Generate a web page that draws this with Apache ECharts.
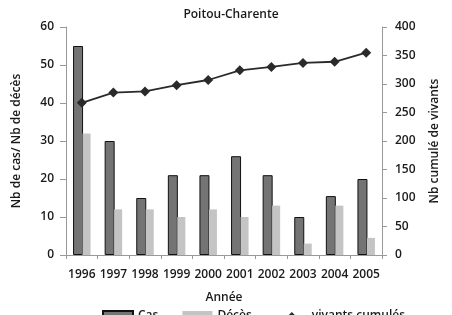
<!DOCTYPE html>
<html>
<head>
<meta charset="utf-8">
<script src="https://cdn.jsdelivr.net/npm/echarts@6/dist/echarts.min.js"></script>
<style>
  html, body { margin: 0; padding: 0; background: #ffffff; }
  #chart { width: 452px; height: 315px; }
</style>
</head>
<body>
<div id="chart"></div>
<script>
// années
var annees = ["1996", "1997", "1998", "1999", "2000", "2001", "2002", "2003", "2004", "2005"];
// nb de cas
var cas = [55, 30, 15, 21, 21, 26, 21, 10, 15.5, 20];
// nb de décès
var deces = [32, 12, 12, 10, 12, 10, 13, 3, 13, 4.5];
// nb cumulé de vivants
var vivants = [267, 285, 287, 298, 307, 324, 330, 337, 339, 355];

var police = "Open Sans";
var texte = "#1a1a1a";
var poids = 600;
var myChart = echarts.init(document.getElementById("chart"));
var option = {
  animation: false,
  textStyle: { fontFamily: police, color: texte, fontWeight: poids },
  title: {
    text: "Poitou-Charente",
    left: 226,
    textAlign: "center",
    top: 4,
    textStyle: { fontSize: 12, fontWeight: poids, color: texte, fontFamily: police }
  },
  legend: {
    top: 305,
    left: 97,
    itemGap: 24,
    itemWidth: 30,
    itemHeight: 10,
    textStyle: { fontSize: 12, color: texte, fontFamily: police, fontWeight: poids },
    data: [
      { name: "Cas", icon: "rect" },
      { name: "Décès", icon: "rect" },
      { name: "vivants cumulés" }
    ]
  },
  grid: { left: 66, right: 70, top: 27, bottom: 60 },
  xAxis: {
    type: "category",
    data: annees,
    name: "Année",
    nameLocation: "middle",
    nameGap: 37,
    nameTextStyle: { fontSize: 12, color: texte, fontWeight: poids },
    axisLine: { lineStyle: { color: "#999" } },
    axisTick: { show: true, alignWithLabel: false, length: 4, lineStyle: { color: "#999" } },
    axisLabel: { fontSize: 12, color: texte, margin: 14, interval: 0, fontWeight: poids }
  },
  yAxis: [
    {
      type: "value",
      min: 0,
      max: 60,
      interval: 10,
      name: "Nb de cas/ Nb de décès",
      nameLocation: "middle",
      nameGap: 43,
      nameTextStyle: { fontSize: 12, color: texte, fontWeight: poids },
      axisLine: { show: true, lineStyle: { color: "#999" } },
      axisTick: { show: true, length: 6, lineStyle: { color: "#999" } },
      axisLabel: { fontSize: 12, color: texte, margin: 12, fontWeight: poids },
      splitLine: { show: false }
    },
    {
      type: "value",
      min: 0,
      max: 400,
      interval: 50,
      name: "Nb cumulé de vivants",
      nameLocation: "middle",
      nameGap: 47,
      nameTextStyle: { fontSize: 12, color: texte, fontWeight: poids },
      axisLine: { show: true, lineStyle: { color: "#999" } },
      axisTick: { show: true, length: 5, lineStyle: { color: "#999" } },
      axisLabel: { fontSize: 12, color: texte, margin: 13, fontWeight: poids },
      splitLine: { show: false }
    }
  ],
  series: [
    {
      name: "Cas",
      type: "bar",
      data: cas,
      barWidth: 10,
      barGap: "-5%",
      itemStyle: { color: "#747474", borderColor: "#111", borderWidth: 1 }
    },
    {
      name: "Décès",
      type: "bar",
      data: deces,
      barWidth: 8,
      itemStyle: { color: "#c4c4c4" }
    },
    {
      name: "vivants cumulés",
      type: "line",
      yAxisIndex: 1,
      data: vivants,
      symbol: "diamond",
      symbolSize: 10,
      lineStyle: { color: "#2a2a2a", width: 1.8 },
      itemStyle: { color: "#2a2a2a" }
    }
  ]
};
myChart.setOption(option);
</script>
</body>
</html>
